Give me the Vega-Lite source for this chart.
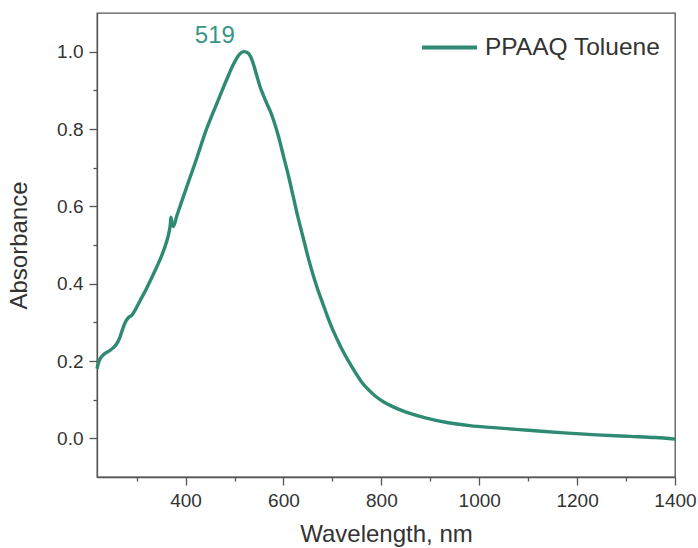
{
  "$schema": "https://vega.github.io/schema/vega-lite/v6.json",
  "width": 578,
  "height": 464,
  "autosize": {"type": "none"},
  "padding": {"left": 97, "top": 13, "right": 23, "bottom": 71},
  "background": "white",
  "config": {
    "view": {"stroke": "#555555", "strokeWidth": 1.3},
    "font": "Liberation Sans"
  },
  "datasets": {
    "spectrum": [
      {"wavelength": 219, "absorbance": 0.180},
      {"wavelength": 222, "absorbance": 0.195},
      {"wavelength": 226, "absorbance": 0.207},
      {"wavelength": 231, "absorbance": 0.215},
      {"wavelength": 237, "absorbance": 0.221},
      {"wavelength": 245, "absorbance": 0.227},
      {"wavelength": 252, "absorbance": 0.234},
      {"wavelength": 259, "absorbance": 0.244},
      {"wavelength": 266, "absorbance": 0.262},
      {"wavelength": 272, "absorbance": 0.285},
      {"wavelength": 278, "absorbance": 0.303},
      {"wavelength": 284, "absorbance": 0.313},
      {"wavelength": 290, "absorbance": 0.318},
      {"wavelength": 298, "absorbance": 0.334},
      {"wavelength": 307, "absorbance": 0.356},
      {"wavelength": 320, "absorbance": 0.387},
      {"wavelength": 331, "absorbance": 0.416},
      {"wavelength": 341, "absorbance": 0.443},
      {"wavelength": 351, "absorbance": 0.472},
      {"wavelength": 361, "absorbance": 0.508},
      {"wavelength": 366, "absorbance": 0.532},
      {"wavelength": 369, "absorbance": 0.556},
      {"wavelength": 370, "absorbance": 0.572},
      {"wavelength": 372, "absorbance": 0.558},
      {"wavelength": 375, "absorbance": 0.548},
      {"wavelength": 382, "absorbance": 0.575},
      {"wavelength": 390, "absorbance": 0.605},
      {"wavelength": 405, "absorbance": 0.660},
      {"wavelength": 423, "absorbance": 0.725},
      {"wavelength": 440, "absorbance": 0.790},
      {"wavelength": 457, "absorbance": 0.845},
      {"wavelength": 470, "absorbance": 0.885},
      {"wavelength": 484, "absorbance": 0.928},
      {"wavelength": 498, "absorbance": 0.968},
      {"wavelength": 510, "absorbance": 0.993},
      {"wavelength": 519, "absorbance": 1.000},
      {"wavelength": 526, "absorbance": 0.998},
      {"wavelength": 533, "absorbance": 0.987},
      {"wavelength": 540, "absorbance": 0.962},
      {"wavelength": 546, "absorbance": 0.936},
      {"wavelength": 552, "absorbance": 0.910},
      {"wavelength": 559, "absorbance": 0.887},
      {"wavelength": 566, "absorbance": 0.866},
      {"wavelength": 573, "absorbance": 0.846},
      {"wavelength": 580, "absorbance": 0.822},
      {"wavelength": 590, "absorbance": 0.780},
      {"wavelength": 600, "absorbance": 0.730},
      {"wavelength": 610, "absorbance": 0.680},
      {"wavelength": 620, "absorbance": 0.625},
      {"wavelength": 630, "absorbance": 0.570},
      {"wavelength": 640, "absorbance": 0.520},
      {"wavelength": 650, "absorbance": 0.470},
      {"wavelength": 660, "absorbance": 0.425},
      {"wavelength": 670, "absorbance": 0.385},
      {"wavelength": 680, "absorbance": 0.350},
      {"wavelength": 690, "absorbance": 0.315},
      {"wavelength": 700, "absorbance": 0.283},
      {"wavelength": 712, "absorbance": 0.250},
      {"wavelength": 723, "absorbance": 0.222},
      {"wavelength": 735, "absorbance": 0.195},
      {"wavelength": 748, "absorbance": 0.168},
      {"wavelength": 760, "absorbance": 0.145},
      {"wavelength": 775, "absorbance": 0.124},
      {"wavelength": 790, "absorbance": 0.107},
      {"wavelength": 805, "absorbance": 0.094},
      {"wavelength": 820, "absorbance": 0.084},
      {"wavelength": 840, "absorbance": 0.073},
      {"wavelength": 860, "absorbance": 0.064},
      {"wavelength": 890, "absorbance": 0.053},
      {"wavelength": 934, "absorbance": 0.041},
      {"wavelength": 980, "absorbance": 0.033},
      {"wavelength": 1036, "absorbance": 0.027},
      {"wavelength": 1100, "absorbance": 0.021},
      {"wavelength": 1173, "absorbance": 0.014},
      {"wavelength": 1240, "absorbance": 0.009},
      {"wavelength": 1309, "absorbance": 0.005},
      {"wavelength": 1360, "absorbance": 0.002},
      {"wavelength": 1400, "absorbance": -0.002}
    ],
    "peak": [
      {"wavelength": 519, "absorbance": 1.0, "label": "519"}
    ]
  },
  "encoding": {
    "x": {
      "field": "wavelength",
      "type": "quantitative",
      "scale": {"domain": [219, 1400], "nice": false, "zero": false},
      "axis": {
        "title": "Wavelength, nm",
        "values": [300, 400, 500, 600, 700, 800, 900, 1000, 1100, 1200, 1300, 1400],
        "format": "d",
        "labelExpr": "datum.value % 200 === 0 ? datum.label : ''",
        "tickSize": {"condition": {"test": "datum.value % 200 === 0", "value": 8}, "value": 4},
        "grid": false,
        "domainColor": "#555555",
        "domainWidth": 1.3,
        "tickColor": "#555555",
        "tickWidth": 1.3,
        "labelColor": "#333333",
        "labelFontSize": 19,
        "labelPadding": 6,
        "labelFlush": false,
        "labelOverlap": false,
        "titleFontSize": 24,
        "titleFontWeight": "normal",
        "titleColor": "#333333",
        "titlePadding": 12
      }
    },
    "y": {
      "field": "absorbance",
      "type": "quantitative",
      "scale": {"domain": [-0.1, 1.1], "nice": false, "zero": false},
      "axis": {
        "title": "Absorbance",
        "values": [0, 0.1, 0.2, 0.3, 0.4, 0.5, 0.6, 0.7, 0.8, 0.9, 1.0],
        "format": ".1f",
        "labelExpr": "round(datum.value * 10) % 2 === 0 ? datum.label : ''",
        "tickSize": {"condition": {"test": "round(datum.value * 10) % 2 === 0", "value": 8}, "value": 4},
        "grid": false,
        "domainColor": "#555555",
        "domainWidth": 1.3,
        "tickColor": "#555555",
        "tickWidth": 1.3,
        "labelColor": "#333333",
        "labelFontSize": 19,
        "labelPadding": 6,
        "labelFlush": false,
        "labelOverlap": false,
        "titleFontSize": 24,
        "titleFontWeight": "normal",
        "titleColor": "#333333",
        "titlePadding": 25
      }
    }
  },
  "layer": [
    {
      "data": {"name": "spectrum"},
      "mark": {"type": "line", "strokeWidth": 3.4, "interpolate": "monotone"},
      "encoding": {
        "color": {
          "datum": "PPAAQ Toluene",
          "type": "nominal",
          "scale": {"range": ["#2e8a72"]},
          "legend": {
            "orient": "none",
            "legendX": 323,
            "legendY": 5,
            "title": null,
            "symbolType": "stroke",
            "symbolSize": 3025,
            "symbolStrokeWidth": 4,
            "labelFontSize": 24.5,
            "labelColor": "#333333",
            "labelOffset": 6,
            "labelLimit": 0,
            "padding": 0
          }
        }
      }
    },
    {
      "data": {"name": "peak"},
      "mark": {"type": "text", "fontSize": 24, "color": "#3a9688", "align": "center", "baseline": "middle", "dx": -29, "dy": -16},
      "encoding": {
        "text": {"field": "label", "type": "nominal"}
      }
    }
  ]
}
